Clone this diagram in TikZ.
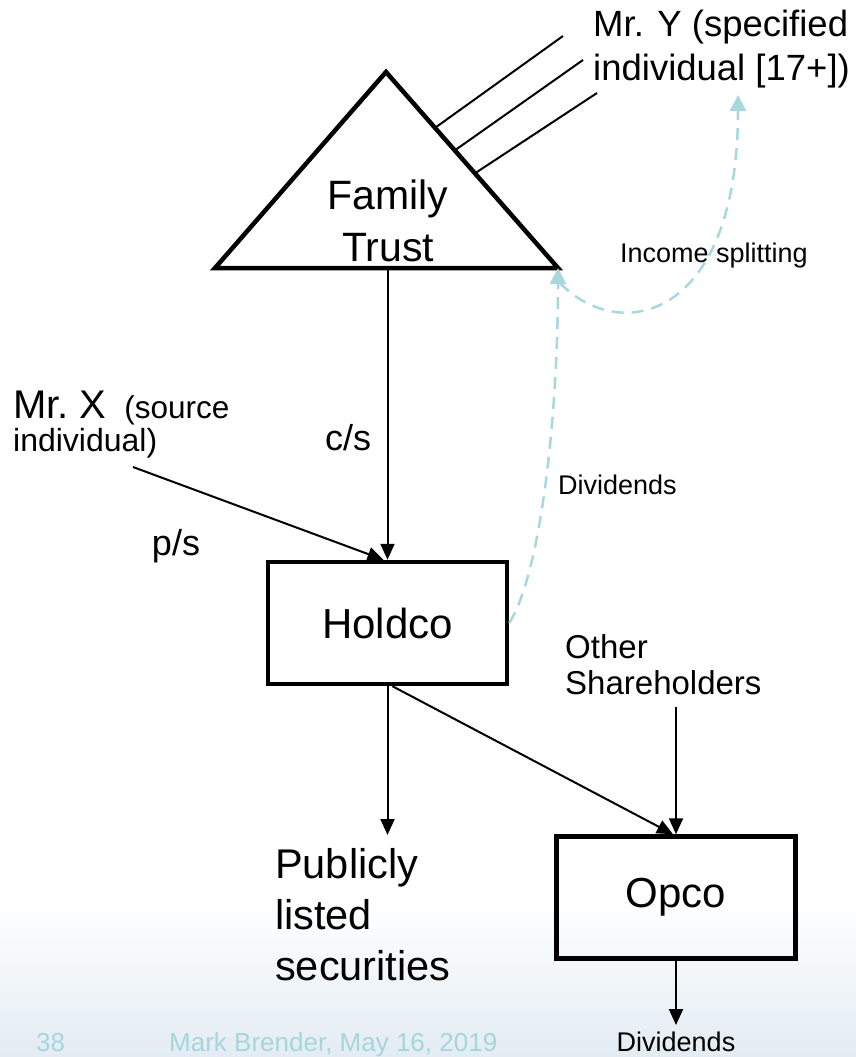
\documentclass[tikz,border=0pt]{standalone}
\usepackage{fontspec}
\setmainfont{Liberation Sans}
\usetikzlibrary{arrows.meta,calc}
\definecolor{flow}{HTML}{A8D8DE}
\definecolor{footer}{HTML}{A6D6DC}
\definecolor{fade}{HTML}{E3ECF3}
\newcommand{\fs}[1]{\fontsize{#1}{#1}\selectfont}
\begin{document}
\begin{tikzpicture}[x=1pt,y=-1pt,
  entity/.style={draw, line width=4.5pt, minimum width=239pt, minimum height=122pt,
                 inner sep=0pt, font=\fs{42}},
  txt/.style={inner sep=0pt},
  link/.style={line width=2pt, -{Triangle[width=14pt,length=16pt]}},
  plain/.style={line width=2pt},
  flowarrow/.style={draw=flow, line width=2.5pt, dash pattern=on 12pt off 8pt,
                    -{Triangle[width=16pt,length=16pt,fill=flow]}},
  foot/.style={inner sep=0pt, text=footer, font=\fs{26}}]
\useasboundingbox (0,0) rectangle (856,1057);
% faint band along the lower edge
\shade[top color=white, bottom color=fade] (0,900) rectangle (856,1057);

% family trust triangle
\coordinate (apex) at (386,72);
\coordinate (bl) at (215,268);
\coordinate (br) at (558,268);
\draw[line width=4.5pt, line join=miter] (apex) -- (br) -- (bl) -- cycle;
\node[txt, anchor=north, align=center, font=\fontsize{41}{52}\selectfont] (trust) at (388,180) {Family\\Trust};
\coordinate (trustfoot) at (387.5,268);

% beneficiary Mr. Y
\node[txt, anchor=north west, align=left, font=\fontsize{36.5}{44}\selectfont] (mry) at (593,9.5)
  {Mr. Y (specified\\individual [17+])};
\coordinate (y1) at ($(apex)!0.285!(br)$);
\coordinate (y2) at ($(apex)!0.400!(br)$);
\coordinate (y3) at ($(apex)!0.517!(br)$);
\coordinate (y1e) at (563,36);
\coordinate (y2e) at (583,60);
\coordinate (y3e) at (597,93);
\draw[plain] (y1) -- (y1e);
\draw[plain] (y2) -- (y2e);
\draw[plain] (y3) -- (y3e);

% corporations
\node[entity] (holdco) at (387.5,623) {Holdco};
\node[entity] (opco) at (676,897.5) {Opco};

% Mr. X
\node[txt, anchor=base west] (mrx) at (13,418) {\fs{40}Mr.\ X\, {\fs{31.5}(source}};
\node[txt, anchor=base west] (mrxsub) at (13,451) {\fs{32}individual)};
\coordinate (mrxfoot) at (133,467);

% share classes
\node[txt, anchor=base, font=\fs{36}] (cs) at (348,450) {c/s};
\node[txt, anchor=base, font=\fs{36}] (ps) at (176,555) {p/s};
\draw[link] (trustfoot) -- (holdco.north);
\draw[link] (mrxfoot) -- ([xshift=-4pt]holdco.north);

% holdings of Holdco
\node[txt, anchor=north west, align=left, font=\fontsize{41.5}{51}\selectfont] (pub) at (275,848)
  {Publicly\\listed\\securities};
\coordinate (pubtip) at (387.5,835);
\draw[link] (holdco.south) -- (pubtip);
\draw[link] ([xshift=5pt]holdco.south) -- ([xshift=-3pt]opco.north);

\node[txt, anchor=north west, align=left, font=\fontsize{33}{36}\selectfont] (others) at (565,634)
  {Other\\Shareholders};
\coordinate (othfoot) at (676,707);
\draw[link] (othfoot) -- (opco.north);

% dividends paid out of Opco
\node[txt, anchor=base, font=\fs{27}] (divout) at (676,1051) {Dividends};
\coordinate (divtip) at (676,1025);
\draw[link] (opco.south) -- (divtip);

% flow of income back up
\node[txt, anchor=base west, font=\fs{27}] (divlab) at (558,494) {Dividends};
\node[txt, anchor=base west, font=\fs{27}] (splitlab) at (620,262) {Income splitting};
\draw[flowarrow] (holdco.east) .. controls (540,575) and (558,420) .. (br);
\coordinate (splitstart) at (560,283);
\coordinate (mrytip) at (738,95);
\draw[flowarrow] (splitstart) .. controls (620,345) and (738,320) .. (mrytip);

% footer
\node[foot, anchor=base west] (page) at (36,1051) {38};
\node[foot, anchor=base west] (author) at (169,1051) {Mark Brender, May 16, 2019};
\end{tikzpicture}
\end{document}
